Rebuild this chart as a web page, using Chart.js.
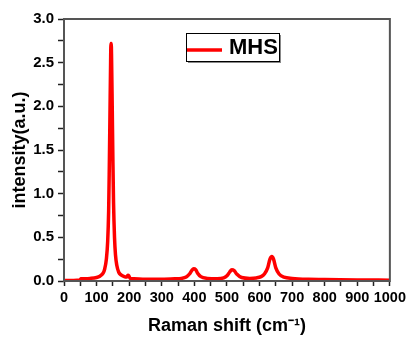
<!DOCTYPE html>
<html>
<head>
<meta charset="utf-8">
<script src="https://cdn.jsdelivr.net/npm/chart.js@4/dist/chart.umd.min.js"></script>
<style>
    html, body { margin: 0; padding: 0; background: #fff; }
    #wrap { width: 409px; height: 337px; }
</style>
</head>
<body>
<div id="wrap"><canvas id="raman-chart"></canvas></div>
<script>
// Raman spectrum
const ramanShift = [0, 20, 40, 48, 52, 60, 80, 100, 110, 120, 125, 130, 134, 137, 139, 141, 143, 144, 145, 146, 148, 150, 152, 155, 158, 162, 168, 175, 185, 192, 196, 199, 203, 215, 250, 300, 340, 360, 375, 385, 392, 398, 404, 410, 420, 440, 470, 490, 500, 508, 515, 522, 530, 545, 570, 590, 605, 615, 625, 632, 638, 643, 650, 660, 675, 700, 750, 800, 900, 1000];
const intensity = [0.005, 0.006, 0.008, 0.01, 0.025, 0.027, 0.03, 0.04, 0.055, 0.09, 0.14, 0.25, 0.45, 0.8, 1.3, 1.9, 2.5, 2.72, 2.72, 2.55, 2.0, 1.4, 0.9, 0.5, 0.3, 0.18, 0.1, 0.07, 0.05, 0.045, 0.065, 0.06, 0.03, 0.025, 0.02, 0.02, 0.025, 0.03, 0.045, 0.08, 0.12, 0.14, 0.13, 0.09, 0.05, 0.03, 0.025, 0.035, 0.06, 0.1, 0.13, 0.12, 0.08, 0.04, 0.03, 0.035, 0.05, 0.08, 0.15, 0.25, 0.28, 0.25, 0.15, 0.08, 0.045, 0.03, 0.02, 0.018, 0.012, 0.01];
const seriesName = 'MHS';

const xMajor = 100, xMinor = 50;
const yMajor = 0.5, yMinor = 0.25;

const boldFont = (size) => ({ family: '"Liberation Sans", Arial, sans-serif', size: size, weight: 'bold' });

// box around the plot area
const framePlugin = {
    id: 'frame',
    afterDraw(chart) {
        const { ctx, chartArea: a } = chart;
        ctx.save();
        ctx.strokeStyle = '#555';
        ctx.lineWidth = 2;
        ctx.strokeRect(a.left, a.top, a.right - a.left, a.bottom - a.top);
        ctx.restore();
    }
};

// boxed legend in the top of the plot
const boxLegendPlugin = {
    id: 'boxLegend',
    afterDraw(chart) {
        const { ctx } = chart;
        const ds = chart.data.datasets[0];
        const x = 186, y = 33, w = 93, h = 28;
        ctx.save();
        ctx.fillStyle = '#888';
        ctx.fillRect(x + 2, y + 2, w, h);
        ctx.fillStyle = '#fff';
        ctx.fillRect(x, y, w, h);
        ctx.strokeStyle = '#000';
        ctx.lineWidth = 1;
        ctx.strokeRect(x + 0.5, y + 0.5, w, h);
        ctx.strokeStyle = ds.borderColor;
        ctx.lineWidth = 3.5;
        ctx.beginPath();
        ctx.moveTo(x + 1, y + 17);
        ctx.lineTo(x + 36, y + 17);
        ctx.stroke();
        ctx.fillStyle = '#000';
        ctx.font = 'bold 22px "Liberation Sans", Arial, sans-serif';
        ctx.textBaseline = 'middle';
        ctx.fillText(ds.label, x + 43, y + 15);
        ctx.restore();
    }
};

new Chart(document.getElementById('raman-chart'), {
    type: 'scatter',
    data: {
        datasets: [{
            label: seriesName,
            data: ramanShift.map((x, i) => ({ x: x, y: intensity[i] })),
            showLine: true,
            borderColor: '#ff0000',
            backgroundColor: '#ff0000',
            borderWidth: 3.5,
            pointRadius: 0,
            cubicInterpolationMode: 'monotone'
        }]
    },
    options: {
        responsive: true,
        maintainAspectRatio: false,
        animation: false,
        layout: { padding: { top: 19, right: 18, left: 0, bottom: 0 } },
        plugins: {
            legend: { display: false },
            tooltip: { enabled: false }
        },
        scales: {
            x: {
                type: 'linear',
                min: 0,
                max: 1000,
                afterFit(scale) { scale.height = 56; },
                border: { display: false },
                grid: { drawOnChartArea: false, tickLength: 5, tickColor: '#222', tickWidth: 1.5 },
                ticks: {
                    stepSize: xMinor,
                    autoSkip: false,
                    maxRotation: 0,
                    padding: 3,
                    color: '#000',
                    font: boldFont(14.5),
                    callback: (v) => (v % xMajor === 0 ? String(v) : '')
                },
                title: {
                    display: true,
                    text: 'Raman shift (cm\u207B\u00B9)',
                    color: '#000',
                    font: boldFont(18),
                    padding: { top: 8, bottom: 0 }
                }
            },
            y: {
                min: 0,
                max: 3,
                afterFit(scale) { scale.width = 64; },
                border: { display: false },
                grid: { drawOnChartArea: false, tickLength: 6, tickColor: '#222', tickWidth: 1.5 },
                ticks: {
                    stepSize: yMinor,
                    autoSkip: false,
                    padding: 4,
                    color: '#000',
                    font: boldFont(15),
                    callback: (v) => (Math.abs(v / yMajor - Math.round(v / yMajor)) < 1e-6 ? v.toFixed(1) : '')
                },
                title: {
                    display: true,
                    text: 'intensity(a.u.)',
                    color: '#000',
                    font: boldFont(18),
                    padding: { top: 9, bottom: 0 }
                }
            }
        }
    },
    plugins: [framePlugin, boxLegendPlugin]
});
</script>
</body>
</html>
